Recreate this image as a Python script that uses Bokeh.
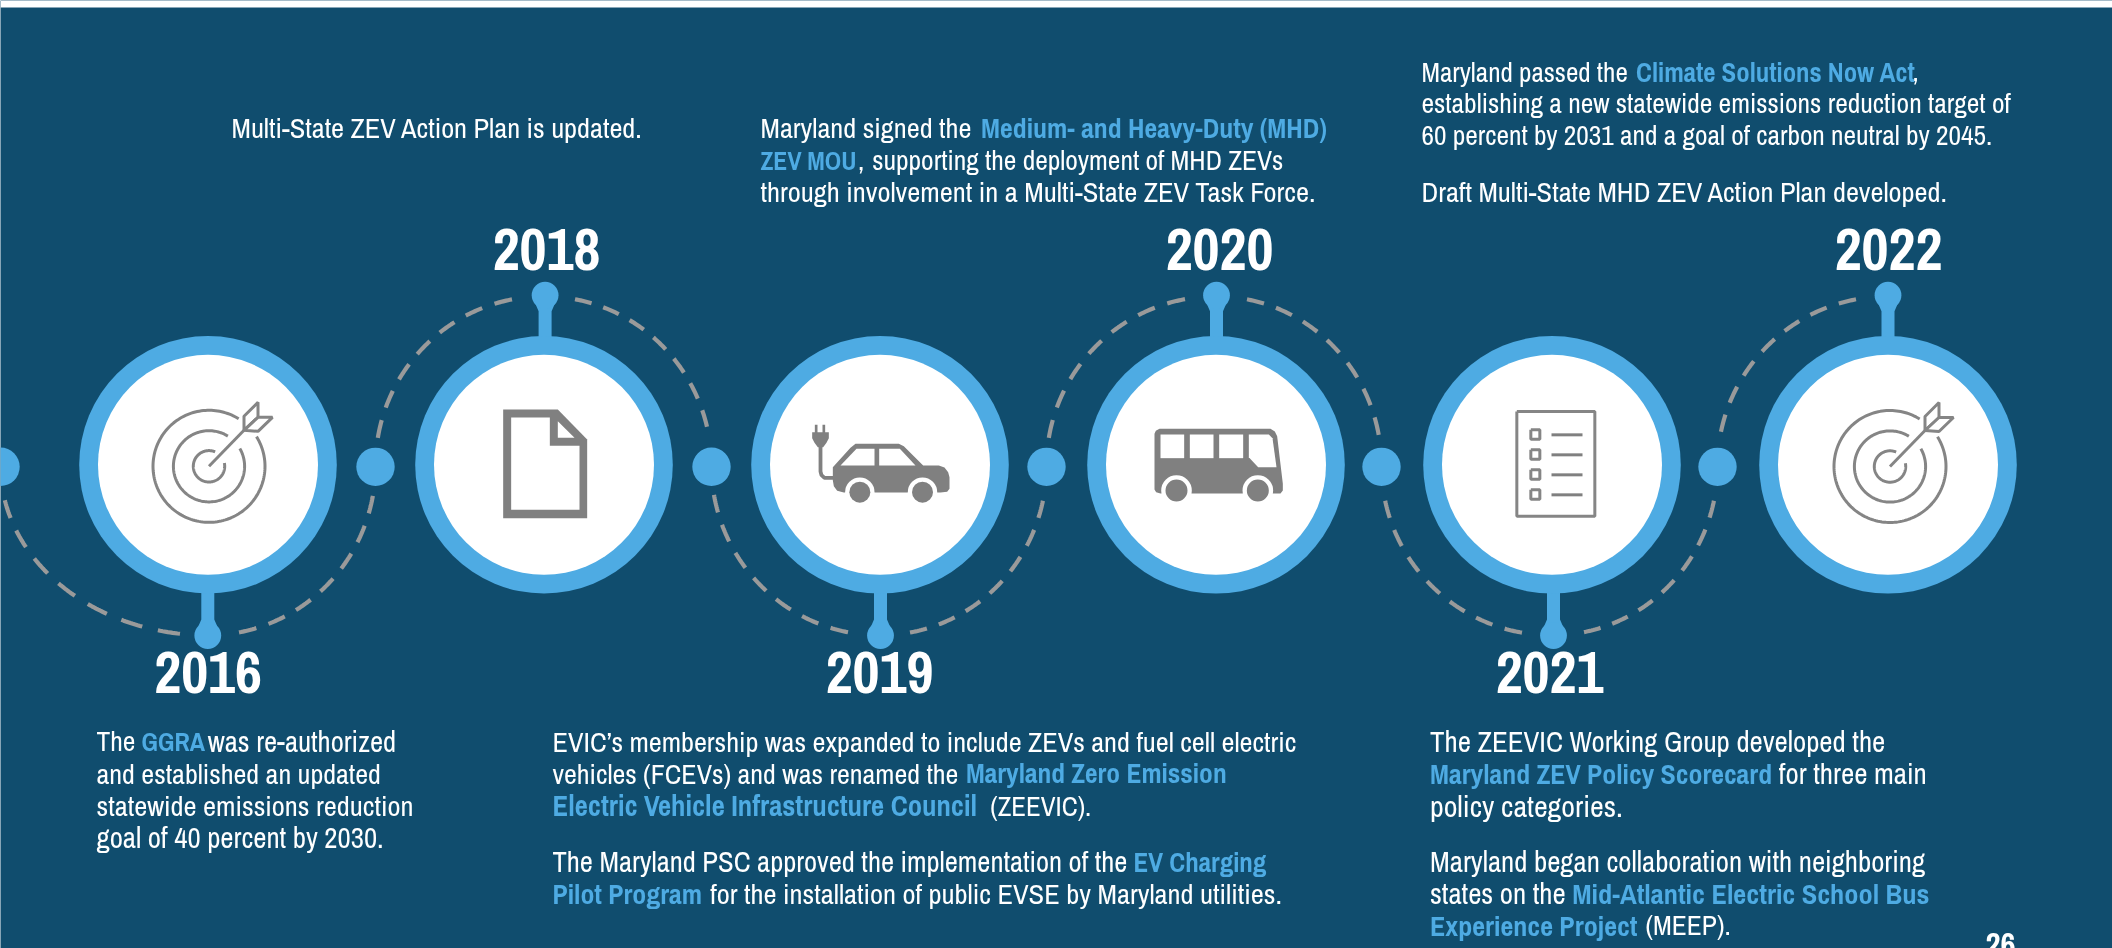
import numpy as np
from bokeh.plotting import figure
from bokeh.models import ColumnDataSource, Range1d
from bokeh.core.properties import value
from bokeh.embed import file_html
from bokeh.resources import INLINE

# ---------- content ----------
YEARS = ["2016", "2018", "2019", "2020", "2021", "2022"]
BODY_TEXT = [
    "Multi-State ZEV Action Plan is updated.",
    "Maryland signed the", "Medium- and Heavy-Duty (MHD)",
    "ZEV MOU", ",", "supporting the deployment of MHD ZEVs",
    "through involvement in a Multi-State ZEV Task Force.",
    "Maryland passed the", "Climate Solutions Now Act", ",",
    "establishing a  new statewide emissions reduction target of",
    "60 percent by 2031 and a goal of carbon neutral by 2045.",
    "Draft Multi-State MHD ZEV Action Plan developed.",
    "The", "GGRA", "was re-authorized",
    "and established an updated",
    "statewide emissions reduction",
    "goal of 40 percent by 2030.",
    "EVIC\u2019s membership was expanded to include ZEVs and fuel cell electric",
    "vehicles (FCEVs) and was renamed the", "Maryland Zero Emission",
    "Electric Vehicle Infrastructure Council", "(ZEEVIC).",
    "The Maryland PSC approved the implementation of the", "EV Charging",
    "Pilot Program", "for the installation of public EVSE by Maryland utilities.",
    "The ZEEVIC Working Group developed the",
    "Maryland ZEV Policy Scorecard", "for three main",
    "policy categories.",
    "Maryland began collaboration with neighboring",
    "states on the", "Mid-Atlantic Electric School Bus",
    "Experience Project", "(MEEP).",
]
BODY_BOLD = [
    0,
    0, 1,
    1, 0, 0,
    0,
    0, 1, 0,
    0,
    0,
    0,
    0, 1, 0,
    0, 0, 0,
    0,
    0, 1,
    1, 0,
    0, 1,
    1, 0,
    0,
    1, 0,
    0,
    0,
    0, 1,
    1, 0,
]
PAGE_NUMBER = "26"

# ---------- layout (pixels of the page) ----------
BODY_X = [
    231,
    760, 980.6,
    760, 857.5, 871.7,
    760,
    1421, 1635.6, 1912,
    1421,
    1421,
    1421,
    96, 141, 207.3,
    96, 96, 96,
    552,
    552, 965.5,
    552, 989.8,
    552, 1133,
    552, 709.8,
    1429.5,
    1429.5, 1778.3,
    1429.5,
    1429.5,
    1429.5, 1571.7,
    1429.5, 1645,
]
BODY_Y = [
    137,
    137, 137,
    169, 169, 169,
    201,
    80.7, 80.7, 80.7,
    112.5,
    144.5,
    201,
    750.7, 750.7, 750.7,
    782.7, 814.7, 846.7,
    750.7,
    782.7, 782.7,
    814.7, 814.7,
    870.7, 870.7,
    902.7, 902.7,
    750.7,
    782.7, 782.7,
    814.7,
    870.7,
    902.7, 902.7,
    934.7, 934.7,
]
BODY_SIZE = [
    28.4,
    28.4, 27.8,
    25.7, 27.5, 27.5,
    28.5,
    27.1, 26.8, 27,
    27.5,
    27.4,
    28.4,
    27.5, 25.8, 28.7,
    28.1, 28.5, 28.9,
    28.3,
    28, 27.5,
    28.7, 27,
    28.6, 27,
    27.8, 28.5,
    28.9,
    27.8, 29,
    30,
    28.9,
    28.9, 28.3,
    28.1, 27.5,
]
W, H = 2112, 948
NAVY, BLUE, GRAY, DASH = "#104d6e", "#4eabe3", "#808080", "#9a9a9a"
FONT = value("Archivo Narrow, Liberation Sans")
BODY_SHIFT, YEAR_SHIFT, PAGE_SHIFT = -9.5, -21.8, -12

CX = [207.5, 543.5, 879.5, 1215.5, 1551.5, 1887.5]
CY = 464.3
DOTS = [0, 375, 711, 1046, 1381, 1717]
DOT_Y = 466.3
LOLLI_X = [207.3, 544.6, 880, 1216, 1553, 1887.5]
YEAR_X = [207.6, 546, 879, 1219, 1549, 1888]

p = figure(width=W, height=H, x_range=Range1d(0, W), y_range=Range1d(H, 0),
           output_backend="svg", toolbar_location=None, min_border=0,
           x_axis_location=None, y_axis_location=None,
           background_fill_color=NAVY, border_fill_color=NAVY, outline_line_color=None)
p.grid.visible = False
p.styles = {"position": "fixed", "left": "0px", "top": "0px"}

# white strip on top of the page
p.quad(left=[0], right=[W], top=[0], bottom=[7], fill_color="white", line_color=None)

# dashed arcs: (circle, side, vertical, gap at stem, gap at dot, dot index)
ARCS = [
    (0, -1, 1, 28, 34.5, 0), (0, 1, 1, 31, 30, 1),
    (1, -1, -1, 32, 28, 1), (1, 1, -1, 31, 39, 2),
    (2, -1, 1, 32, 29, 2), (2, 1, 1, 30, 35, 3),
    (3, -1, -1, 31, 28, 3), (3, 1, -1, 31, 31, 4),
    (4, -1, 1, 30, 35, 4), (4, 1, 1, 32, 35, 5),
    (5, -1, -1, 32, 34, 5),
]
xs, ys = [], []
B = 169.5
F = 18 / 31
for i, s, v, g_l, g_d, d in ARCS:
    a = abs(CX[i] - DOTS[d])
    t0, t1 = np.arcsin(g_l / a), np.arccos(g_d / B)
    per = (t1 - t0) / (6 + F)
    for k in range(7):
        t = np.linspace(t0 + k * per, t0 + k * per + F * per, 10)
        xs.append(list(CX[i] + s * a * np.sin(t)))
        ys.append(list(DOT_Y - 1 + v * B * np.cos(t)))
p.multi_line(xs, ys, line_color=DASH, line_width=4.2)

# connector dots
p.circle(DOTS, [DOT_Y] * 6, radius=19.2, fill_color=BLUE, line_color=None)

# stems and lollipop heads
for k, lx in enumerate(LOLLI_X):
    up = k % 2 == 1
    ly = 294.7 if up else 635
    sg = 1 if up else -1
    edge = CY - sg * 127
    p.patch([lx - 6.5, lx + 6.5, lx + 6.5, lx + 9.5, lx - 9.5, lx - 6.5],
            [edge, edge, ly + sg * 16, ly + sg * 9, ly + sg * 9, ly + sg * 16],
            fill_color=BLUE, line_color=None)
    p.circle([lx], [ly], radius=13.4, fill_color=BLUE, line_color=None)

# big rings
p.circle(CX, [CY] * 6, radius=128.8, fill_color=BLUE, line_color=None)
p.circle(CX, [CY] * 6, radius=110, fill_color="white", line_color=None)


def Z(pts, ox, oy):
    return [ox + q[0] / 3 for q in pts], [oy + q[1] / 3 for q in pts]


# target icons
def target(cx, cy):
    lw = 3
    for r, g0, g1 in [(56, 32, 58), (35.6, 30, 58), (15.7, 12, 67)]:
        t = np.radians(np.linspace(-g0, -g1 + 360, 160))
        p.line(cx + r * np.cos(t), cy + r * np.sin(t), line_color="#858585", line_width=lw)
    p.line([cx, cx + 35], [cy, cy - 36], line_color="#858585", line_width=lw)
    p.patch([cx + 35, cx + 35, cx + 49, cx + 49], [cy - 36, cy - 50, cy - 64, cy - 49],
            fill_color="white", line_color="#858585", line_width=lw)
    p.patch([cx + 35, cx + 49, cx + 63.5, cx + 49], [cy - 36, cy - 49, cy - 49, cy - 35],
            fill_color="white", line_color="#858585", line_width=lw)


target(208.5, 465.8)
target(1889.5, 466)

# document icon
p.patch(*Z([(68, 57), (232, 57), (320, 147), (320, 383), (68, 383)], 480, 390), fill_color=GRAY, line_color=None)
p.patch(*Z([(92, 81), (208, 81), (208, 166), (297, 166), (297, 358), (92, 358)], 480, 390), fill_color="white", line_color=None)
p.patch(*Z([(232, 92), (282, 142), (232, 142)], 480, 390), fill_color="white", line_color=None)

# car icon
O = (800, 415)
p.patch(*Z([(97, 155), (150, 97), (165, 85), (295, 85), (310, 92), (368, 150), (415, 150), (432, 156),
            (443, 170), (447, 185), (447, 220), (440, 229), (420, 231), (130, 231), (110, 226), (100, 212), (97, 195)], *O),
        fill_color=GRAY, line_color=None)
p.patch(*Z([(120, 150), (168, 100), (222, 100), (222, 150)], *O), fill_color="white", line_color=None)
p.patch(*Z([(236, 100), (298, 100), (345, 150), (236, 150)], *O), fill_color="white", line_color=None)
wx, wy = Z([(178, 230), (366, 230)], *O)
p.circle(wx, wy, radius=14.7, fill_color="white", line_color=None)
p.circle(wx, wy, radius=10.5, fill_color=GRAY, line_color=None)
p.patch(*Z([(43, 28), (51, 28), (51, 50), (66, 50), (66, 28), (74, 28), (74, 50), (85, 50), (85, 68), (78, 82),
            (68, 95), (52, 95), (42, 82), (35, 68), (35, 50), (43, 50)], *O), fill_color=GRAY, line_color=None)
p.line(*Z([(60, 92), (60, 168), (63, 179), (72, 187), (100, 187)], *O), line_color=GRAY, line_width=3.8)

# bus icon
O = (1145, 415)
p.patch(*Z([(27, 55), (31, 46), (42, 40), (375, 40), (388, 48), (395, 62), (403, 130), (412, 205), (412, 225),
            (405, 234), (45, 234), (32, 230), (27, 222)], *O), fill_color=GRAY, line_color=None)
for w in [[(45, 57), (116, 57), (116, 128), (45, 128)], [(133, 57), (204, 57), (204, 128), (133, 128)],
          [(221, 57), (293, 57), (293, 128), (221, 128)],
          [(310, 57), (370, 57), (381, 68), (393, 155), (338, 155), (310, 125)]]:
    p.patch(*Z(w, *O), fill_color="white", line_color=None)
wx, wy = Z([(93, 225), (337, 225)], *O)
p.circle(wx, wy, radius=15.3, fill_color="white", line_color=None)
p.circle(wx, wy, radius=11, fill_color=GRAY, line_color=None)

# checklist icon
O = (1490, 395)
fx, fy = Z([(79, 48), (313, 48), (313, 362), (79, 362), (79, 48)], *O)
p.line(fx, fy, line_color="#858585", line_width=3)
for row in (117, 177, 237, 297):
    bx, by = Z([(121, row - 14), (148, row - 14), (148, row + 14), (121, row + 14), (121, row - 14)], *O)
    p.line(bx, by, line_color="#858585", line_width=3)
    lx, ly = Z([(183, row + 1), (276, row + 1)], *O)
    p.line(lx, ly, line_color=GRAY, line_width=3)

# year labels
YEAR_Y = [(694 if k % 2 == 0 else 270.7) + YEAR_SHIFT for k in range(6)]
p.text(YEAR_X, YEAR_Y, text=YEARS, text_align="center", text_baseline="alphabetic",
       text_font=FONT, text_font_style="bold", text_font_size="59px", text_color="white")

# body text
src = ColumnDataSource(dict(
    x=BODY_X, y=[y + BODY_SHIFT for y in BODY_Y], t=BODY_TEXT,
    c=[BLUE if b else "white" for b in BODY_BOLD],
    s=["bold" if b else "normal" for b in BODY_BOLD],
    z=[f"{v}px" for v in BODY_SIZE],
))
p.text("x", "y", text="t", source=src, text_color="c", text_font_style="s", text_font_size="z",
       text_font=FONT, text_align="left", text_baseline="alphabetic")

# page number, cut by the page edge
p.text([2000], [956 + PAGE_SHIFT], text=[PAGE_NUMBER], text_align="center", text_baseline="alphabetic",
       text_font=FONT, text_font_style="bold", text_font_size="33px", text_color="white")

open("out.html", "w").write(file_html(p, INLINE))
